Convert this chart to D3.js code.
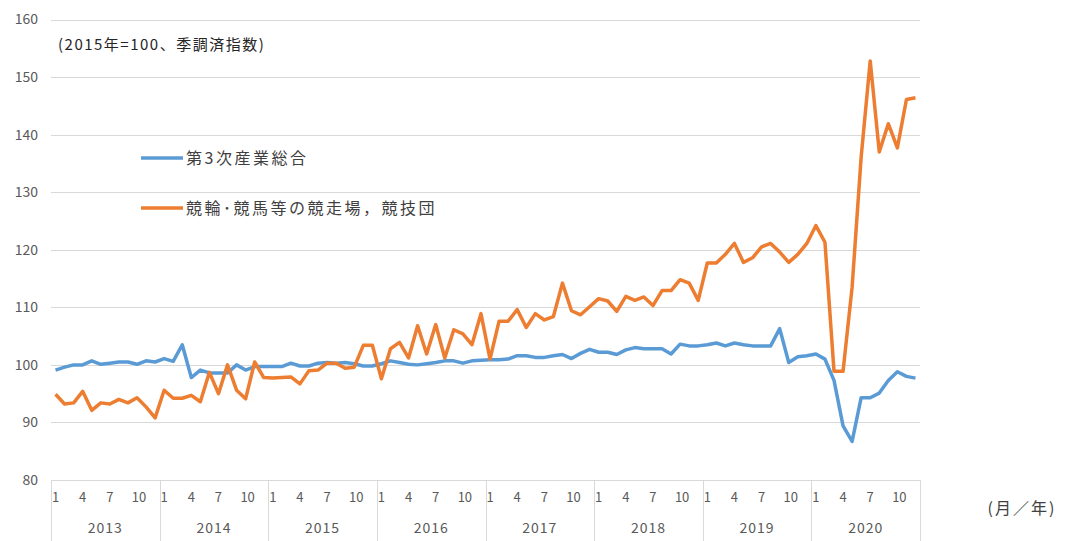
<!DOCTYPE html>
<html>
<head>
<meta charset="utf-8">
<script src="https://cdn.jsdelivr.net/npm/d3@7"></script>
<style>
  body { margin: 0; background: #fff; }
  svg { display: block; font-family: "Noto Sans CJK JP", "DejaVu Sans", sans-serif; }
</style>
</head>
<body>
<div id="chart"></div>
<script>
const years = ["2013", "2014", "2015", "2016", "2017", "2018", "2019", "2020"]
const monthLabels = ["1", "", "", "4", "", "", "7", "", "", "10", "", ""]
const yTicks = [80, 90, 100, 110, 120, 130, 140, 150, 160]

// 第3次産業総合
const tertiary = [
  99.1, 99.6, 100.0, 100.0, 100.7, 100.1, 100.3, 100.5, 100.5, 100.1, 100.7, 100.5,
  101.1, 100.6, 103.5, 97.8, 99.1, 98.6, 98.6, 98.6, 100.0, 99.1, 99.7, 99.7,
  99.7, 99.7, 100.3, 99.8, 99.8, 100.3, 100.4, 100.3, 100.4, 100.2, 99.8, 99.8,
  100.2, 100.7, 100.4, 100.1, 100.0, 100.2, 100.4, 100.7, 100.7, 100.3, 100.7, 100.8,
  100.9, 100.9, 101.0, 101.6, 101.6, 101.3, 101.3, 101.6, 101.8, 101.1, 102.0, 102.7,
  102.2, 102.2, 101.8, 102.6, 103.0, 102.8, 102.8, 102.8, 101.9, 103.6, 103.3, 103.3,
  103.5, 103.8, 103.3, 103.8, 103.5, 103.3, 103.3, 103.3, 106.3, 100.4, 101.4, 101.6,
  101.9, 101.0, 97.3, 89.4, 86.7, 94.3, 94.3, 95.1, 97.3, 98.8, 98.0, 97.7
]

// 競輪・競馬等の競走場，競技団
const racing = [
  94.9, 93.2, 93.4, 95.4, 92.1, 93.4, 93.2, 94.0, 93.4, 94.3, 92.7, 90.8,
  95.6, 94.2, 94.2, 94.7, 93.6, 98.7, 95.0, 100.0, 95.6, 94.1, 100.5, 97.8,
  97.7, 97.8, 97.9, 96.7, 99.0, 99.1, 100.3, 100.3, 99.4, 99.6, 103.4, 103.4,
  97.6, 102.8, 103.9, 101.2, 106.8, 101.9, 107.0, 101.2, 106.1, 105.4, 103.5, 108.9,
  101.0, 107.6, 107.6, 109.6, 106.5, 108.9, 107.8, 108.4, 114.2, 109.4, 108.7, 110.1,
  111.5, 111.1, 109.3, 111.9, 111.2, 111.8, 110.3, 112.9, 112.9, 114.8, 114.2, 111.2,
  117.7, 117.7, 119.2, 121.1, 117.8, 118.6, 120.5, 121.1, 119.6, 117.8, 119.2, 121.1,
  124.2, 121.3, 98.9, 98.9, 113.5, 136.1, 152.8, 137.0, 141.9, 137.7, 146.1, 146.4
]

const seriesNames = ["第3次産業総合", "競輪･競馬等の競走場，競技団"]
const colors = ["#5b9bd5", "#ed7d31"]

const width = 1066, height = 541
const plotLeft = 51, plotRight = 920, plotTop = 19.5, plotBottom = 480

const svg = d3.select("#chart").append("svg")
    .attr("width", width)
    .attr("height", height)

const months = d3.range(tertiary.length)

const x = d3.scaleBand()
    .domain(months)
    .range([plotLeft, plotRight])

const xYear = d3.scaleBand()
    .domain(years)
    .range([plotLeft, plotRight])

const y = d3.scaleLinear()
    .domain([80, 160])
    .range([plotBottom, plotTop])

// gridlines
svg.append("g")
  .selectAll("line")
  .data(yTicks.slice(1))
  .join("line")
    .attr("x1", plotLeft)
    .attr("x2", plotRight)
    .attr("y1", d => Math.round(y(d)) + 0.5)
    .attr("y2", d => Math.round(y(d)) + 0.5)
    .attr("stroke", "#d9d9d9")
    .attr("stroke-width", 1)

// y axis labels
svg.append("g")
  .selectAll("text")
  .data(yTicks)
  .join("text")
    .attr("x", 38)
    .attr("y", d => y(d))
    .attr("dy", "0.35em")
    .attr("text-anchor", "end")
    .attr("fill", "#595959")
    .style("font-size", "14px")
    .text(d => d)

// category axis
const axis = svg.append("g")
axis.append("line")
    .attr("x1", plotLeft).attr("x2", plotRight)
    .attr("y1", plotBottom + 0.5).attr("y2", plotBottom + 0.5)
    .attr("stroke", "#d9d9d9")

axis.selectAll("line.div")
  .data(years.concat(["end"]))
  .join("line")
    .attr("class", "div")
    .attr("x1", (d, i) => Math.round(i < years.length ? xYear(d) : plotRight) + 0.5)
    .attr("x2", (d, i) => Math.round(i < years.length ? xYear(d) : plotRight) + 0.5)
    .attr("y1", plotBottom)
    .attr("y2", height)
    .attr("stroke", "#d9d9d9")

axis.selectAll("text.month")
  .data(months.filter(m => monthLabels[m % 12] !== ""))
  .join("text")
    .attr("class", "month")
    .attr("x", m => x(m) + x.bandwidth() / 2 + (m % 12 === 9 ? 2 : 0))
    .attr("y", 497)
    .attr("dy", "0.35em")
    .attr("text-anchor", "middle")
    .attr("fill", "#595959")
    .style("font-size", "13px")
    .text(m => monthLabels[m % 12])

axis.selectAll("text.year")
  .data(years)
  .join("text")
    .attr("class", "year")
    .attr("x", d => xYear(d) + xYear.bandwidth() / 2)
    .attr("y", 528)
    .attr("dy", "0.35em")
    .attr("text-anchor", "middle")
    .attr("fill", "#595959")
    .style("font-size", "14px")
    .style("letter-spacing", "1px")
    .text(d => d)

svg.append("text")
    .attr("x", 1022)
    .attr("y", 508)
    .attr("dy", "0.35em")
    .attr("text-anchor", "middle")
    .attr("fill", "#404040")
    .style("font-size", "16px")
    .style("letter-spacing", "2px")
    .text("(月／年)")

// lines
const line = d3.line()
    .x((d, i) => x(i) + x.bandwidth() / 2)
    .y(d => y(d))

svg.append("g")
  .selectAll("path")
  .data([tertiary, racing])
  .join("path")
    .attr("d", line)
    .attr("fill", "none")
    .attr("stroke", (d, i) => colors[i])
    .attr("stroke-width", 3.5)
    .attr("stroke-linejoin", "round")

// legend
const legend = svg.append("g")
  .selectAll("g")
  .data(seriesNames)
  .join("g")
    .attr("transform", (d, i) => `translate(141,${158 + i * 50})`)

legend.append("line")
    .attr("x1", 0).attr("x2", 42)
    .attr("stroke", (d, i) => colors[i])
    .attr("stroke-width", 3.5)

legend.append("text")
    .attr("x", 45)
    .attr("dy", "0.35em")
    .attr("fill", "#404040")
    .style("font-size", "16px")
    .style("letter-spacing", "2.5px")
    .text(d => d)

// note
svg.append("text")
    .attr("x", 58)
    .attr("y", 45)
    .attr("dy", "0.35em")
    .attr("fill", "#262626")
    .style("font-size", "15px")
    .style("letter-spacing", "1.5px")
    .text("(2015年=100、季調済指数)")
</script>
</body>
</html>
